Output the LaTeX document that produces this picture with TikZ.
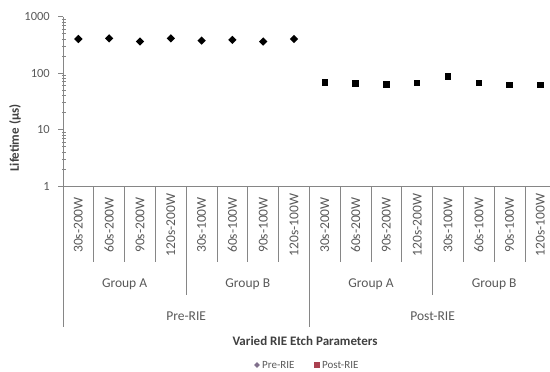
\documentclass[tikz,border=0pt]{standalone}
\usepackage{fontspec}
\setmainfont{Carlito}
\usetikzlibrary{shapes.geometric}
\definecolor{AxisGray}{RGB}{134, 134, 134}
\definecolor{LabelGray}{RGB}{89, 89, 89}
\definecolor{TitleGray}{RGB}{64, 64, 64}
\definecolor{PreMark}{RGB}{128, 112, 140}
\definecolor{PostMark}{RGB}{170, 64, 80}

\begin{document}
\begin{tikzpicture}[x=1pt, y=-1pt,
    axisline/.style={draw=AxisGray, line width=0.8pt},
    ticklabel/.style={font=\fontsize{12.5}{13}\selectfont, text=LabelGray, inner sep=0pt},
    legendlabel/.style={font=\fontsize{11}{12}\selectfont, text=LabelGray, inner sep=0pt},
    catlabel/.style={font=\fontsize{13.5}{14}\selectfont, text=LabelGray, rotate=90, inner sep=0pt},
    grouplabel/.style={font=\fontsize{13.5}{14}\selectfont, text=LabelGray, inner sep=0pt},
    titlelabel/.style={font=\bfseries\fontsize{13}{14}\selectfont, text=TitleGray, inner sep=0pt},
    premark/.style={diamond, fill=black, inner sep=0pt, minimum size=8.5pt},
    postmark/.style={rectangle, fill=black, inner sep=0pt, minimum size=6.5pt}]
    \useasboundingbox (0,0) rectangle (550,372);

    % value axis (log scale, 56.5px per decade)
    \draw[axisline] (63,16.5) -- (63,327);
    \foreach \d/\t in {0/1, 1/10, 2/100, 3/1000} {
        \draw[axisline] (58,{186-56.5*\d}) -- (63,{186-56.5*\d});
        \node[ticklabel, anchor=east] (ytick\d) at (50,{186-56.5*\d}) {\t};
    }
    \foreach \d in {0,1,2}
        \foreach \m in {2,...,9}
            \draw[AxisGray, line width=0.6pt] (62,{186-56.5*(\d+log10(\m))}) -- (66,{186-56.5*(\d+log10(\m))});
    \node[titlelabel, rotate=90] (ylab) at (15,138) {Lifetime (µs)};

    % category axis
    \draw[axisline] (63,186) -- (550,186);
    \foreach \k in {1,2,3,5,6,7,9,10,11,13,14,15}
        \draw[axisline] ({63+30.8*\k},186) -- ({63+30.8*\k},262);
    \foreach \k in {4,12}
        \draw[axisline] ({63+30.8*\k},186) -- ({63+30.8*\k},295);
    \draw[axisline] ({63+30.8*8},186) -- ({63+30.8*8},327);

    \foreach \h in {0,1} {
        \foreach \lab [count=\i from 0] in {30s-200W,60s-200W,90s-200W,120s-200W,30s-100W,60s-100W,90s-100W,120s-100W}
            \node[catlabel] (cat\h-\i) at ({63+30.8*(8*\h+\i+0.5)},225) {\lab};
        \node[grouplabel] (grpA\h) at ({63+30.8*(8*\h+2)},284) {Group A};
        \node[grouplabel] (grpB\h) at ({63+30.8*(8*\h+6)},284) {Group B};
    }
    \node[grouplabel] (pre) at ({63+30.8*4},316) {Pre-RIE};
    \node[grouplabel] (post) at ({63+30.8*12},316) {Post-RIE};
    \node[titlelabel] (xlab) at (305,341) {Varied RIE Etch Parameters};

    % data
    \foreach \v [count=\i from 0] in {400,410,360,410,375,385,360,400}
        \node[premark] (pre\i) at ({63+30.8*(\i+0.5)},{186-56.5*log10(\v)}) {};
    \foreach \v [count=\i from 0] in {68,65,63,66,86,66,61,61}
        \node[postmark] (post\i) at ({63+30.8*(\i+8.5)},{186-56.5*log10(\v)}) {};

    % legend
    \node[diamond, fill=PreMark, inner sep=0pt, minimum size=6pt] (legpre) at (257,365) {};
    \node[legendlabel, anchor=west] (legpretxt) at (262,365) {Pre-RIE};
    \node[rectangle, fill=PostMark, inner sep=0pt, minimum size=6pt] (legpost) at (317,365) {};
    \node[legendlabel, anchor=west] (legposttxt) at (322,365) {Post-RIE};
\end{tikzpicture}
\end{document}
